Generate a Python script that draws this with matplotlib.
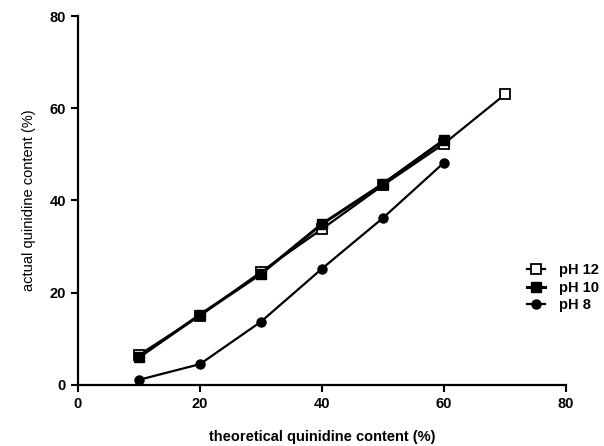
import matplotlib.pyplot as plt

plt.rcParams['font.family'] = ['Liberation Sans', 'DejaVu Sans']

# ---------- data ----------
x_ph12 = [10, 20, 30, 40, 50, 60, 70]
y_ph12 = [6.5, 15, 24.5, 33.8, 43.3, 52.3, 63]
x_ph10 = [10, 20, 30, 40, 50, 60]
y_ph10 = [6, 15.2, 24.1, 34.9, 43.6, 53.1]
x_ph8 = [10, 20, 30, 40, 50, 60]
y_ph8 = [1.1, 4.5, 13.7, 25.2, 36.2, 48.2]

fig = plt.figure(figsize=(6.04, 4.46), dpi=100)
ax = fig.add_axes([0.129, 0.137, 0.808, 0.827])

ax.plot(x_ph12, y_ph12, color='black', lw=1.6, marker='s', ms=6.5,
        mfc='white', mec='black', mew=1.3, label='pH 12')
ax.plot(x_ph10, y_ph10, color='black', lw=2.2, marker='s', ms=7.5,
        mfc='black', mec='black', label='pH 10')
ax.plot(x_ph8, y_ph8, color='black', lw=1.6, marker='o', ms=6.5,
        mfc='black', mec='black', label='pH 8')

ax.set_xlim(0, 80)
ax.set_ylim(0, 80)
ax.set_xticks([0, 20, 40, 60, 80])
ax.set_yticks([0, 20, 40, 60, 80])
ax.spines['top'].set_visible(False)
ax.spines['right'].set_visible(False)
ax.spines['left'].set_linewidth(1.6)
ax.spines['bottom'].set_linewidth(1.6)
ax.tick_params(direction='out', length=5, width=1.5, labelsize=10.5)
for lab in ax.get_xticklabels() + ax.get_yticklabels():
    lab.set_fontweight('bold')

ax.set_xlabel('theoretical quinidine content (%)', fontsize=10.5, fontweight='bold', labelpad=14)
ax.set_ylabel('actual quinidine content (%)', fontsize=10.5, labelpad=10)

fig.legend(loc='center left', bbox_to_anchor=(0.85, 0.355), frameon=False,
           handlelength=1.3, handletextpad=0.9, labelspacing=0.25,
           prop={'weight': 'bold', 'size': 10.5})

fig.savefig('out.png', dpi=100)
